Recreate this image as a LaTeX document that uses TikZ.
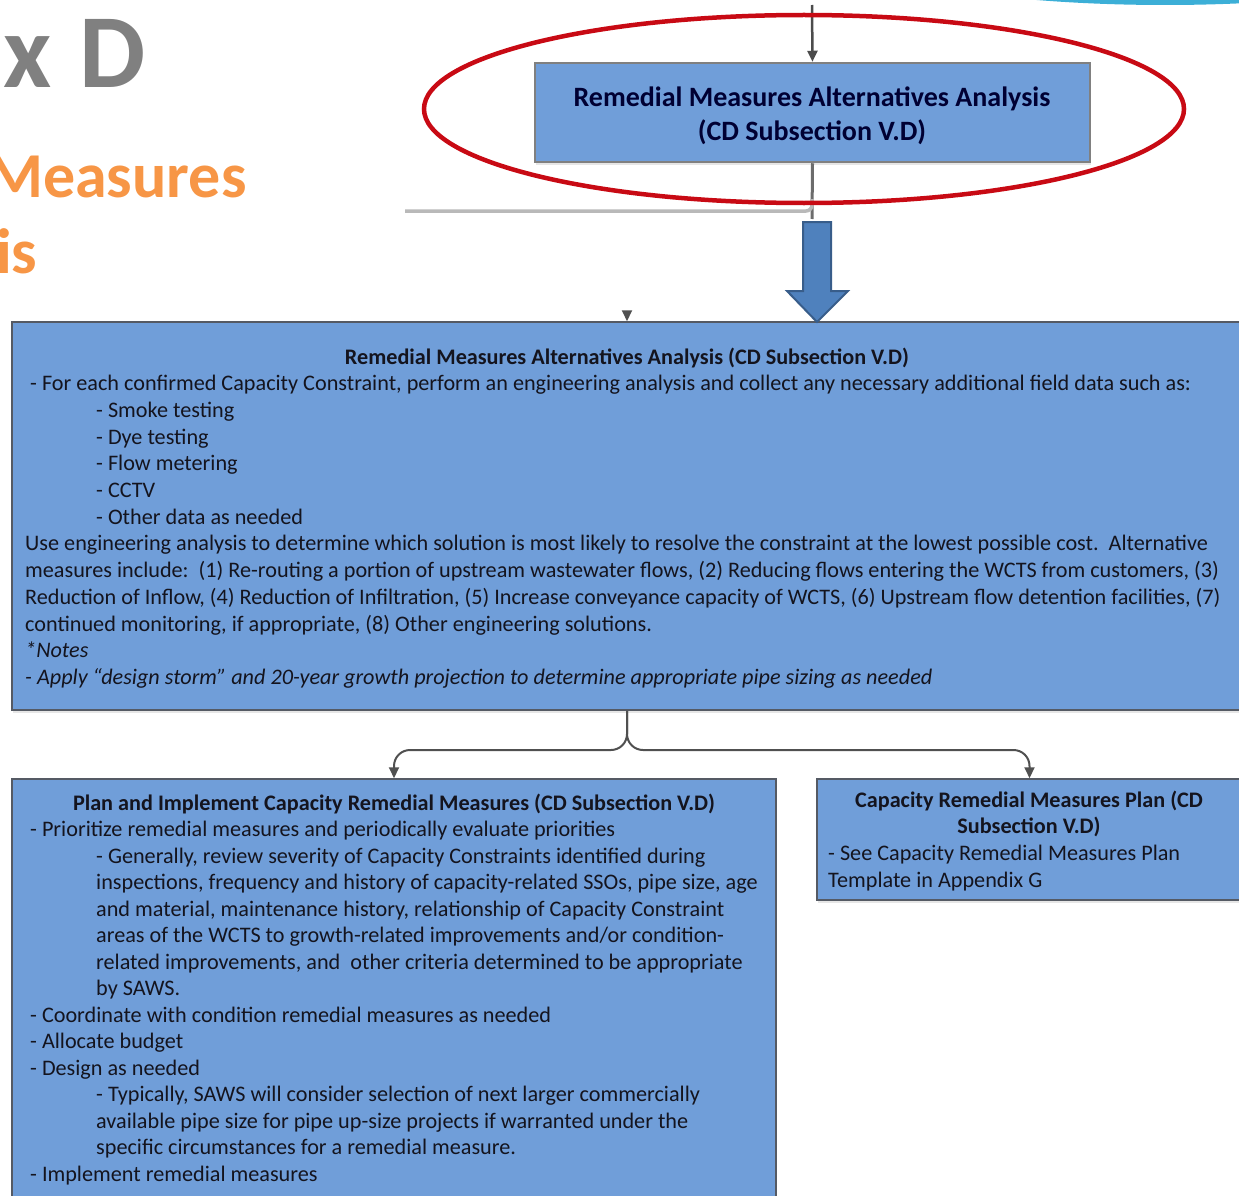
\documentclass[tikz,border=0pt]{standalone}
\usepackage{fontspec}
\setmainfont{Carlito}
\usetikzlibrary{arrows.meta,shadows}

\definecolor{boxfill}{RGB}{112,158,217}
\definecolor{boxline}{RGB}{85,90,100}
\definecolor{textdark}{RGB}{20,20,30}
\definecolor{linkgray}{RGB}{80,80,80}
\definecolor{ringred}{RGB}{200,10,20}
\definecolor{arrowfill}{RGB}{79,129,189}
\definecolor{arrowline}{RGB}{56,93,138}
\definecolor{titlegray}{RGB}{128,128,128}
\definecolor{titleorange}{RGB}{247,150,70}
\definecolor{cyanarc}{RGB}{60,175,215}

\tikzstyle{box}=[rectangle,draw=boxline,fill=boxfill,line width=1.5pt,inner sep=0pt,drop shadow={opacity=0.2,shadow xshift=1pt,shadow yshift=-3pt}]
\tikzstyle{bodytext}=[anchor=base west,inner sep=0pt,font=\fontsize{22.2}{26.5}\selectfont,text=textdark]
\tikzstyle{headtext}=[anchor=base,inner sep=0pt,font=\fontsize{22.2}{26.5}\selectfont\bfseries,text=textdark]
\tikzstyle{link}=[draw=linkgray,line width=2pt,-{Triangle[length=11pt,width=10pt]}]
\tikzstyle{stem}=[draw=gray!85!black,line width=3pt]

\begin{document}
\begin{tikzpicture}[x=1pt,y=-1pt]
    \useasboundingbox (0,0) rectangle (1239,1196);
    \clip (0,0) rectangle (1239,1196);

    % slide title, cut at the left edge
    \node[anchor=base west,inner sep=0pt,font=\fontsize{105}{105}\selectfont\bfseries,text=titlegray] (appx) at (3,88) {x\hspace{4pt} D};
    \node[anchor=base west,inner sep=0pt,font=\fontsize{64}{76}\selectfont\bfseries,text=titleorange] (measures) at (-13,197) {Measures};
    \node[anchor=base west,inner sep=0pt,font=\fontsize{64}{76}\selectfont\bfseries,text=titleorange] (analysis) at (-4,273) {is};
    \fill[cyanarc] (1165,-95) ellipse [x radius=410, y radius=100];

    % boxes
    \node[box,draw=gray,line width=2.5pt,minimum width=555pt,minimum height=99pt] (topbox) at (812.5,112.5) {};
    \node[box,minimum width=1230pt,minimum height=388pt] (mainbox) at (627,516) {};
    \node[box,minimum width=764pt,minimum height=436pt] (leftbox) at (394,997) {};
    \node[box,minimum width=425pt,minimum height=121pt] (rightbox) at (1029.5,839.5) {};

    % top box text
    \node[headtext,font=\fontsize{28}{34}\selectfont\bfseries,text=black!80!blue] (topTitle) at (812,106.5) {Remedial Measures Alternatives Analysis};
    \node[headtext,font=\fontsize{28}{34}\selectfont\bfseries,text=black!80!blue] (topSub) at (812,140.5) {(CD Subsection V.D)};

    % main box text
    \node[headtext] (mainTitle) at (627,364) {Remedial Measures Alternatives Analysis (CD Subsection V.D)};
    \foreach \n/\x/\txt in {
        1/30/{- For each confirmed Capacity Constraint, perform an engineering analysis and collect any necessary additional field data such as:},
        2/96/{- Smoke testing},
        3/96/{- Dye testing},
        4/96/{- Flow metering},
        5/96/{- CCTV},
        6/96/{- Other data as needed},
        7/25/{Use engineering analysis to determine which solution is most likely to resolve the constraint at the lowest possible cost.\ \ Alternative},
        8/25/{measures include:\ \ (1) Re-routing a portion of upstream wastewater flows, (2) Reducing flows entering the WCTS from customers, (3)},
        9/25/{Reduction of Inflow, (4) Reduction of Infiltration, (5) Increase conveyance capacity of WCTS, (6) Upstream flow detention facilities, (7)},
        10/25/{continued monitoring, if appropriate, (8) Other engineering solutions.},
        11/25/{\itshape *Notes},
        12/25/{\itshape - Apply “design storm” and 20-year growth projection to determine appropriate pipe sizing as needed}}
        \node[bodytext] (main-\n) at (\x,364+26.7*\n) {\txt};

    % left box text
    \node[headtext] (leftTitle) at (394,810) {Plan and Implement Capacity Remedial Measures (CD Subsection V.D)};
    \foreach \n/\x/\txt in {
        1/30/{- Prioritize remedial measures and periodically evaluate priorities},
        2/96/{- Generally, review severity of Capacity Constraints identified during},
        3/96/{inspections, frequency and history of capacity-related SSOs, pipe size, age},
        4/96/{and material, maintenance history, relationship of Capacity Constraint},
        5/96/{areas of the WCTS to growth-related improvements and/or condition-},
        6/96/{related improvements, and\ \ other criteria determined to be appropriate},
        7/96/{by SAWS.},
        8/30/{- Coordinate with condition remedial measures as needed},
        9/30/{- Allocate budget},
        10/30/{- Design as needed},
        11/96/{- Typically, SAWS will consider selection of next larger commercially},
        12/96/{available pipe size for pipe up-size projects if warranted under the},
        13/96/{specific circumstances for a remedial measure.},
        14/30/{- Implement remedial measures}}
        \node[bodytext] (left-\n) at (\x,810+26.5*\n) {\txt};

    % right box text
    \node[headtext] (rightTitle) at (1029,807) {Capacity Remedial Measures Plan (CD};
    \node[headtext] (rightSub) at (1029,833) {Subsection V.D)};
    \node[bodytext] (right-1) at (828,860) {- See Capacity Remedial Measures Plan};
    \node[bodytext] (right-2) at (828,887) {Template in Appendix G};

    % connectors
    \coordinate (topin) at (812,5);
    \coordinate (topout) at (812,219);
    \coordinate (bend) at (812,199);
    \coordinate (sideend) at (405,211);
    \coordinate (orph) at (627,311);
    \coordinate (split) at (627,750);
    \draw[link,draw=gray!60!black,line width=2.5pt] (topin) -- (topbox.north);
    \draw[stem] (topbox.south) -- (topout);
    \draw[draw=gray!55,line width=3.5pt,rounded corners=6pt] (bend) |- (sideend);
    \draw[link] (orph) -- (mainbox.north -| orph);
    \draw[link,rounded corners=16pt] (mainbox.south) -- (split) -| (leftbox.north);
    \draw[link,rounded corners=16pt] (mainbox.south) -- (split) -| (rightbox.north);

    % big block arrow
    \draw[fill=arrowfill,draw=arrowline,line width=2pt,line join=miter] (803,222) -- (831,222) -- (831,291) -- (848,291) -- (817,322) -- (787,291) -- (803,291) -- cycle;

    % red ring
    \draw[ringred,line width=4.5pt] (804,109) ellipse [x radius=380, y radius=94];
\end{tikzpicture}
\end{document}
